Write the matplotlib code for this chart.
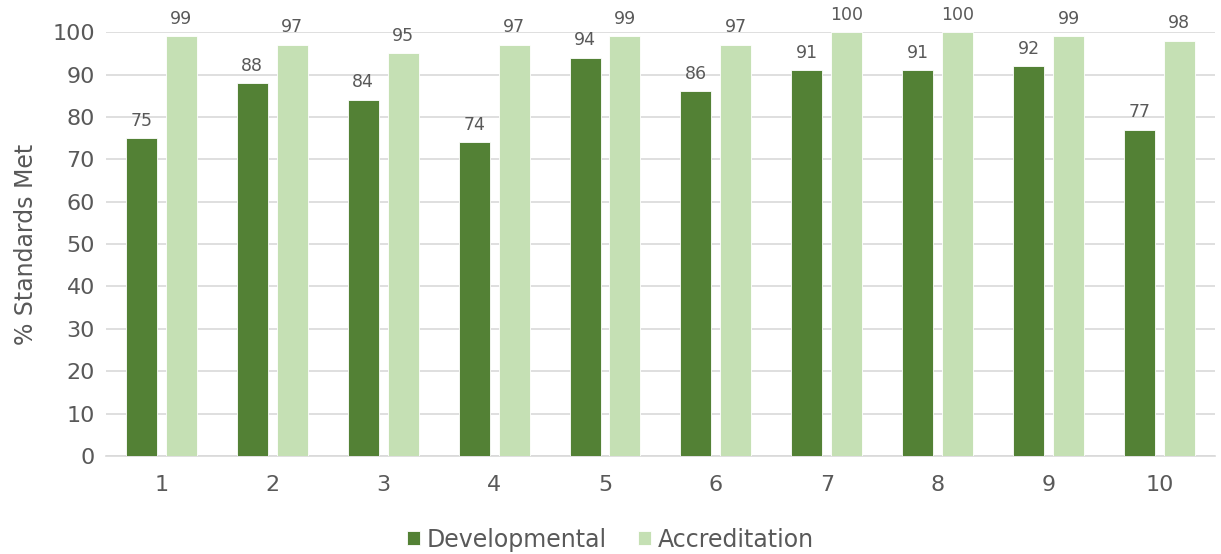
import numpy as np
import matplotlib.pyplot as plt

plt.rcParams['font.family'] = ['DejaVu Sans']

categories = ['1', '2', '3', '4', '5', '6', '7', '8', '9', '10']
developmental = [75, 88, 84, 74, 94, 86, 91, 91, 92, 77]
accreditation = [99, 97, 95, 97, 99, 97, 100, 100, 99, 98]

dark = '#538135'
light = '#C5E0B4'
txt = '#595959'

fig = plt.figure(figsize=(12.21, 5.54), dpi=100)
ax = fig.add_axes([0.0868, 0.177, 0.9082, 0.765])

x = np.arange(1, len(categories) + 1)
w = 0.28
off = 0.18
b1 = ax.bar(x - off, developmental, w, color=dark, edgecolor='white', linewidth=0.6,
            label='Developmental', zorder=3)
b2 = ax.bar(x + off, accreditation, w, color=light, edgecolor='white', linewidth=0.6,
            label='Accreditation', zorder=3)

for bars, vals in ((b1, developmental), (b2, accreditation)):
    for r, v in zip(bars, vals):
        ax.text(r.get_x() + r.get_width() / 2, v + 2.0, str(v), ha='center', va='bottom',
                fontsize=12.5, color=txt)

ax.set_xlim(0.5, 10.5)
ax.set_ylim(0, 100)
ax.set_yticks(range(0, 101, 10))
ax.set_xticks(x)
ax.set_xticklabels(categories)
ax.tick_params(axis='both', length=0, labelsize=16, colors=txt)
ax.tick_params(axis='x', pad=14)
ax.tick_params(axis='y', pad=8)
ax.grid(axis='y', color='#d9d9d9', linewidth=1.2, zorder=0)
for s in ('top', 'right', 'left'):
    ax.spines[s].set_visible(False)
ax.spines['bottom'].set_color('#d9d9d9')
ax.spines['bottom'].set_linewidth(1.2)
ax.set_ylabel('% Standards Met', fontsize=17, color=txt, labelpad=10)

fig.legend(handles=[b1, b2], loc='center', bbox_to_anchor=(0.5, 0.026), ncol=2,
           frameon=False, fontsize=17, labelcolor=txt, handlelength=0.55, handleheight=0.55,
           handletextpad=0.3, columnspacing=1.3)

fig.savefig('out.png', dpi=100)
